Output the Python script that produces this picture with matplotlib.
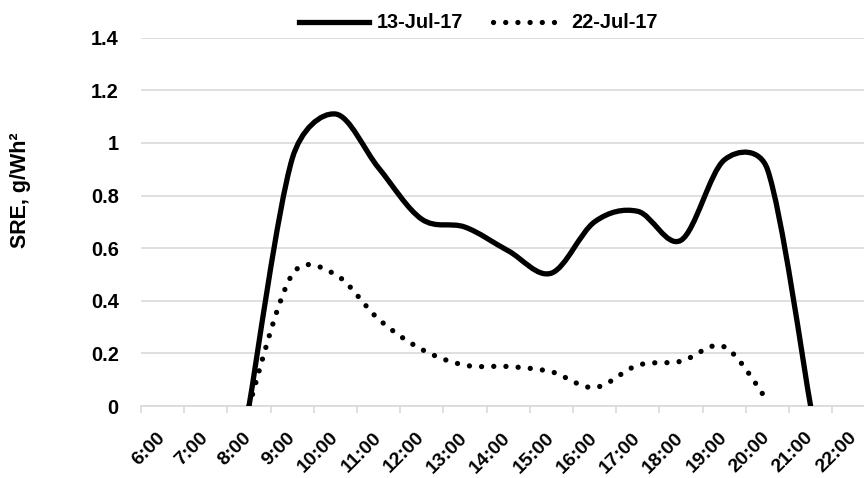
import matplotlib
matplotlib.use("Agg")
import matplotlib.pyplot as plt
import numpy as np
from matplotlib.path import Path
from matplotlib.patches import PathPatch
from matplotlib.lines import Line2D

plt.rcParams['font.family'] = ['Liberation Sans', 'DejaVu Sans']
plt.rcParams['font.weight'] = 'bold'

# hourly categories shown on the axis
hour_labels = ['6:00', '7:00', '8:00', '9:00', '10:00', '11:00', '12:00', '13:00', '14:00',
               '15:00', '16:00', '17:00', '18:00', '19:00', '20:00', '21:00', '22:00']
hours_all = np.arange(6, 23)

# 13-Jul-17 series (8:00 .. 21:00)
hours_jul13 = np.array([8, 9, 10, 11, 12, 13, 14, 15, 16, 17, 18, 19, 20, 21])
sre_jul13 = np.array([0, 0.94, 1.11, 0.905, 0.71, 0.68, 0.59, 0.505, 0.70, 0.74, 0.63, 0.935, 0.90, 0])

# 22-Jul-17 series (8:00 .. 20:00)
hours_jul22 = np.array([8, 9, 10, 11, 12, 13, 14, 15, 16, 17, 18, 19, 20])
sre_jul22 = np.array([0, 0.50, 0.50, 0.33, 0.215, 0.155, 0.15, 0.13, 0.07, 0.155, 0.17, 0.225, 0.02])

W, H = 864, 478
fig = plt.figure(figsize=(W / 100, H / 100), dpi=100)
ax = fig.add_axes([141 / W, (H - 406) / H, 734.4 / W, 368.3 / H])
ax.set_xlim(5.5, 22.5)
ax.set_ylim(0, 1.4)

# pixels per data unit, used so the smoothing behaves like Excel's (works in screen space)
sx = 734.4 / 17
sy = 368.3 / 1.4


def smooth_path(xs, ys):
    P = np.column_stack([xs * sx, ys * sy]).astype(float)
    n = len(P)
    verts = [P[0]]
    codes = [Path.MOVETO]
    for i in range(n - 1):
        p0 = P[i - 1] if i > 0 else P[i]
        p1, p2 = P[i], P[i + 1]
        p3 = P[i + 2] if i + 2 < n else P[i + 1]
        seg = np.linalg.norm(p2 - p1)
        t1 = (p2 - p0) / 6
        t2 = (p3 - p1) / 6
        for t in (t1, t2):
            ln = np.linalg.norm(t)
            if ln > seg / 2:
                t *= (seg / 2) / ln
        verts += [p1 + t1, p2 - t2, p2]
        codes += [Path.CURVE4] * 3
    verts = np.array(verts) / [sx, sy]
    return Path(verts, codes)


dots = (0, (0.01, 2.3))
ax.add_patch(PathPatch(smooth_path(hours_jul13, sre_jul13), fill=False,
                       edgecolor='black', lw=3.8, capstyle='round', joinstyle='round', zorder=3))
ax.add_patch(PathPatch(smooth_path(hours_jul22, sre_jul22), fill=False,
                       edgecolor='black', lw=3.8, linestyle=dots,
                       capstyle='round', zorder=3))

# axes styling like the Excel chart
for s in ['top', 'right', 'left']:
    ax.spines[s].set_visible(False)
ax.spines['bottom'].set_color('#d9d9d9')
ax.spines['bottom'].set_linewidth(1.2)
ax.set_yticks(np.arange(0, 1.41, 0.2))
ax.set_yticklabels(['0', '0.2', '0.4', '0.6', '0.8', '1', '1.2', '1.4'])
ax.tick_params(axis='y', length=0, pad=16, labelsize=14.4)
ax.grid(axis='y', color='#d9d9d9', lw=1.2)
ax.set_axisbelow(True)

ax.set_xticks(np.arange(5.5, 22.6, 1))
ax.set_xticklabels([])
ax.tick_params(axis='x', which='major', length=5, width=1.2, color='#d9d9d9')
ax.set_xticks(hours_all, minor=True)
ax.set_xticklabels(hour_labels, minor=True, rotation=45, ha='right', va='center',
                   rotation_mode='anchor', fontsize=14)
ax.tick_params(axis='x', which='minor', length=0, pad=21)

fig.text(21 / W, 1 - 190 / H, 'SRE, g/Wh²', rotation=90, ha='center', va='center',
         fontsize=15.5, fontweight='bold')

handles = [Line2D([], [], color='black', lw=3.8),
           Line2D([], [], color='black', lw=3.8, linestyle=dots, dash_capstyle='round')]
fig.legend(handles, ['13-Jul-17', '22-Jul-17'], loc='center', ncol=2,
           bbox_to_anchor=(478 / W, 1 - 23 / H), frameon=False, fontsize=14.4,
           handlelength=3.5, handletextpad=0.4, columnspacing=1.5)

fig.savefig('out.png', dpi=100)
